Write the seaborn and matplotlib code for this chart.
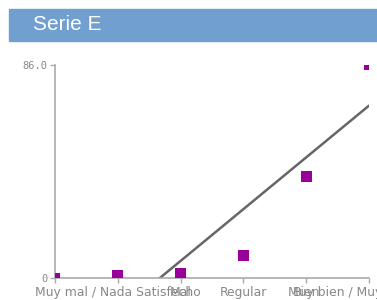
import matplotlib
matplotlib.use("Agg")
import matplotlib.pyplot as plt
import seaborn as sns
import pandas as pd
from matplotlib.patches import Rectangle

# Datos de la serie
posiciones = [0, 1, 2, 3, 4, 5]
conteos = [0, 1, 2, 9, 41, 86]
etiquetas = ["", "Muy mal / Nada Satisfecho", "Mal", "Regular", "Bien",
             "Muy bien / Muy Satisfecho"]
titulo = "Serie E"

df = pd.DataFrame({"pos": posiciones, "n": conteos})
df_fit = df[df["pos"] > 0]

sns.set_theme(style="white")
plt.rcParams["font.family"] = ["DejaVu Sans"]

fig = plt.figure(figsize=(3.77, 3.0), dpi=100)

# Barra de titulo
fig.patches.append(Rectangle((9 / 377, 1 - 41 / 300), 1 - 9 / 377, 32 / 300,
                             transform=fig.transFigure, color="#709fd0",
                             zorder=0))
fig.text(33 / 377, 1 - 25 / 300, titulo, color="white", fontsize=15,
         family="Liberation Sans", va="center", ha="left")

ax = fig.add_axes([55 / 377, 22 / 300, 314 / 377, 213 / 300])

sns.regplot(data=df_fit, x="pos", y="n", scatter=False, ci=None,
            truncate=True, ax=ax, line_kws={"color": "#666666", "lw": 1.8})
sns.scatterplot(data=df, x="pos", y="n", marker="s", s=60, color="#990099",
                edgecolor="none", ax=ax, zorder=3)

ax.set_xlim(0, 5)
ax.set_ylim(0, 86)
ax.set_xticks(posiciones)
ax.set_xticklabels(etiquetas, fontsize=8.9, color="#888888")
ax.set_yticks([0, 86])
ax.set_yticklabels(["0", "86.0"], fontsize=7.5, color="#888888",
                   family="DejaVu Sans Mono")
ax.set_xlabel("")
ax.set_ylabel("")

for s in ["top", "right"]:
    ax.spines[s].set_visible(False)
for s in ["left", "bottom"]:
    ax.spines[s].set_color("#aaaaaa")
    ax.spines[s].set_linewidth(1.2)
ax.tick_params(axis="both", length=3.5, width=1, color="#aaaaaa", pad=2,
               bottom=True, left=True)

fig.savefig("out.png", dpi=100)
